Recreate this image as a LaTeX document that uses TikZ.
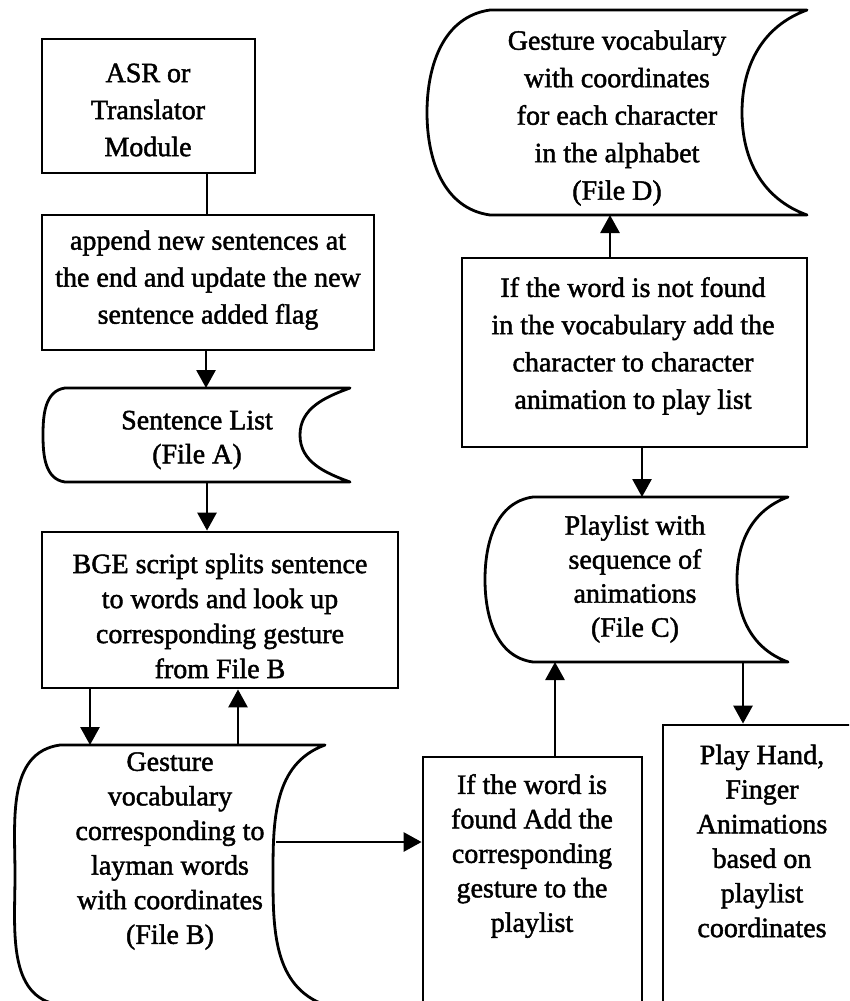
\documentclass[tikz,border=0pt]{standalone}
\usepackage{fontspec}
\setmainfont{Liberation Serif}[FakeBold=1.6]
\usetikzlibrary{calc,arrows.meta}
\newcommand\storeddata[3]{%
  \draw[shp] ($(#1.north west)+(#2,0)$) -- (#1.north east)
    to[out=200,in=90] ($(#1.east)+(-#3,0)$)
    to[out=270,in=160] (#1.south east)
    -- ($(#1.south west)+(#2,0)$)
    to[out=172,in=270] (#1.west)
    to[out=90,in=188] ($(#1.north west)+(#2,0)$) -- cycle;}
\begin{document}
\begin{tikzpicture}[x=1pt,y=-1pt,
  box/.style={draw, line width=2.8pt, rectangle, inner sep=0pt},
  sd/.style={draw=none, rectangle, inner sep=0pt, outer sep=0pt},
  shp/.style={line width=2.8pt, line join=round},
  txt/.style={align=center, inner sep=0pt, font=\fontsize{28}{#1}\selectfont},
  txt/.default=37,
  conn/.style={line width=2.8pt},
  arr/.style={line width=2.8pt, -{Triangle[width=19pt,length=18pt]}}]
\useasboundingbox (0,0) rectangle (849,1001);
\clip (0,0) rectangle (849,1001);

% rectangles
\node[box, minimum width=213pt, minimum height=134pt] (asr) at (148.5,106) {};
\node[box, minimum width=332pt, minimum height=135pt] (append) at (208,282.5) {};
\node[box, minimum width=356pt, minimum height=156pt] (bge) at (220,610) {};
\node[box, minimum width=345pt, minimum height=189pt] (notfound) at (634.5,352.5) {};
\node[box, minimum width=219pt, minimum height=263pt] (found) at (532.5,888.5) {};
\node[box, minimum width=197pt, minimum height=295pt] (play) at (761.5,872.5) {};

% stored data shapes
\node[sd, minimum width=307pt, minimum height=94pt] (sl) at (196.5,435) {};
\node[sd, minimum width=380pt, minimum height=205pt] (fd) at (617,112.5) {};
\node[sd, minimum width=303pt, minimum height=165pt] (fc) at (636.5,579.5) {};
\node[sd, minimum width=310pt, minimum height=260pt] (fb) at (170,875) {};
\storeddata{sl}{22}{50}
\storeddata{fd}{63}{65}
\storeddata{fc}{48}{51}
\storeddata{fb}{45}{52}

% texts
\node[txt] (tasr) at (148,110) {ASR or\\Translator\\Module};
\node[txt] (tapp) at (208,280) {append new sentences at\\the end and update the new\\sentence added flag};
\node[txt=34] (tsl) at (197,440) {Sentence List\\(File A)};
\node[txt=35] (tbge) at (220,616) {BGE script splits sentence\\to words and look up\\corresponding gesture\\from File B};
\node[txt=34.6] (tfb) at (170,851) {Gesture\\vocabulary\\corresponding to\\layman words\\with coordinates\\(File B)};
\node[txt=37.5] (tfd) at (617,118) {Gesture vocabulary\\with coordinates\\for each character\\in the alphabet\\(File D)};
\node[txt=37.3] (tnf) at (633,346) {If the word is not found\\in the vocabulary add the\\character to character\\animation to play list};
\node[txt=34] (tfc) at (635,579) {Playlist with\\sequence of\\animations\\(File C)};
\node[txt=34.5] (tfound) at (532,856) {If the word is\\found Add the\\corresponding\\gesture to the\\playlist};
\node[txt=34.6] (tplay) at (762,841) {Play Hand,\\Finger\\Animations\\based on\\playlist\\coordinates};

% connectors
\coordinate (fbout) at (276,842);
\draw[conn] (asr.south -| 207,0) -- (append.north -| 207,0);
\draw[arr] (append.south -| 206,0) -- (sl.north -| 206,0);
\draw[arr] (sl.south -| 207,0) -- (bge.north -| 207,0);
\draw[arr] (bge.south -| 90,0) -- (fb.north -| 90,0);
\draw[arr] (fb.north -| 238,0) -- (bge.south -| 238,0);
\draw[arr] (fbout) -- (fbout -| found.west);
\draw[arr] (found.north -| 555,0) -- (fc.south -| 555,0);
\draw[arr] (notfound.south -| 642,0) -- (fc.north -| 642,0);
\draw[arr] (notfound.north -| 610,0) -- (fd.south -| 610,0);
\draw[arr] (fc.south -| 743,0) -- (play.north -| 743,0);
\end{tikzpicture}
\end{document}
